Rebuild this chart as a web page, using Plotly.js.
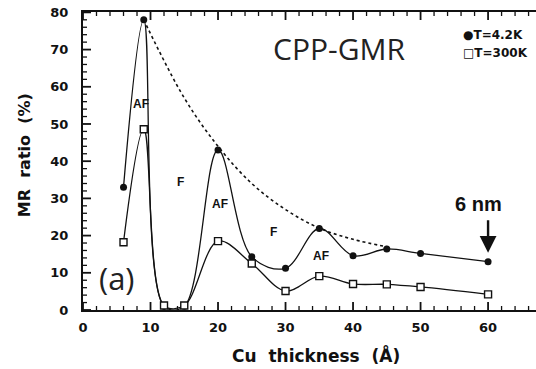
<!DOCTYPE html>
<html>
<head>
<meta charset="utf-8">
<script src="https://cdn.plot.ly/plotly-3.0.1.min.js"></script>
<style>
  html, body { margin: 0; padding: 0; background: #fff; }
  #chart { width: 536px; height: 369px; }
</style>
</head>
<body>
<div id="chart"></div>
<script>
// Cu spacer thickness (Å) and CPP-GMR ratio (%) at two temperatures
const thickness = [6, 9, 12, 15, 20, 25, 30, 35, 40, 45, 50, 60];
const mrLowT    = [33, 78, 1, 1, 43, 14.3, 11.2, 21.9, 14.6, 16.4, 15.2, 13];
const mrRoomT   = [18.2, 48.6, 1.2, 1.2, 18.5, 12.5, 5.1, 9.1, 7.0, 6.9, 6.2, 4.2];

// dotted envelope over the AF peaks
const envX = [9, 15, 20, 25, 30, 35, 40, 45];
const envY = [78, 57, 44, 34, 27, 22, 19, 17];

// coupling labels
const couplingText = ['AF', 'F', 'AF', 'F', 'AF'];
const couplingX    = [8.6, 14.4, 20.3, 28.2, 35.3];
const couplingY    = [55.5, 34.4, 28.5, 21, 14.6];

const xRange = [0, 67.1];
const yRange = [0, 80.1];

const W = 536, H = 369;
const M = { l: 83, r: 0, t: 12, b: 59 };
const plotW = W - M.l - M.r, plotH = H - M.t - M.b;

const ink = '#111';
const tickFont = { family: 'DejaVu Sans, sans-serif', size: 13, color: ink, weight: 700 };

// inward tick marks (8 px at every 10, 4 px at every 2), one short segment each
const xPerPx = (xRange[1] - xRange[0]) / plotW;
const yPerPx = (yRange[1] - yRange[0]) / plotH;
const tickTraces = [];
function addTick(xs, ys, major) {
  tickTraces.push({
    x: xs, y: ys, mode: 'lines', type: 'scatter', cliponaxis: false,
    line: { color: ink, width: major ? 1.8 : 1.3 },
    hoverinfo: 'skip', showlegend: false
  });
}
for (let v = 0; v <= 66; v += 2) {
  const major = v % 10 === 0;
  const dy = (major ? 8 : 4) * yPerPx;
  addTick([v, v], [yRange[0], yRange[0] + dy], major);
  addTick([v, v], [yRange[1], yRange[1] - dy], major);
}
for (let v = 0; v <= 80; v += 2) {
  const major = v % 10 === 0;
  const dx = (major ? 8 : 4) * xPerPx;
  addTick([xRange[0], xRange[0] + dx], [v, v], major);
}

const traces = tickTraces.concat([
  {
    x: envX, y: envY, mode: 'lines', type: 'scatter',
    line: { color: ink, width: 1.6, dash: 'dot', shape: 'spline', smoothing: 1 },
    hoverinfo: 'skip', showlegend: false
  },
  {
    x: thickness, y: mrLowT, mode: 'lines+markers', type: 'scatter', name: 'T=4.2K',
    line: { color: ink, width: 1.3, shape: 'spline', smoothing: 1 },
    marker: { symbol: 'circle', size: 7, color: ink },
    showlegend: false
  },
  {
    x: thickness, y: mrRoomT, mode: 'lines+markers', type: 'scatter', name: 'T=300K',
    line: { color: ink, width: 1.3, shape: 'spline', smoothing: 1 },
    marker: { symbol: 'square', size: 7, color: '#fff', line: { color: ink, width: 1.4 } },
    showlegend: false
  }
]);

const boldLabel = { family: 'Liberation Sans, Arial, sans-serif', size: 12, color: ink, weight: 700 };
const annotations = couplingText.map((t, i) => ({
  x: couplingX[i], y: couplingY[i], text: t, showarrow: false, font: boldLabel
}));

annotations.push(
  { x: 27.9, y: 70.3, xanchor: 'left', text: 'CPP-GMR', showarrow: false,
    font: { family: 'Open Sans, sans-serif', size: 30, color: '#222' } },
  { x: 2.0, y: 8.6, xanchor: 'left', text: '(a)', showarrow: false,
    font: { family: 'Open Sans, sans-serif', size: 31, color: '#222' } },
  { x: 56.0, y: 73.8, xanchor: 'left', text: '●T=4.2K', showarrow: false,
    font: { family: 'DejaVu Sans, sans-serif', size: 12, color: ink, weight: 700 } },
  { x: 56.0, y: 69.0, xanchor: 'left', text: '□T=300K', showarrow: false,
    font: { family: 'DejaVu Sans, sans-serif', size: 12, color: ink, weight: 700 } },
  { x: 58.6, y: 28.5, text: '6 nm', showarrow: false,
    font: { family: 'Liberation Sans, Arial, sans-serif', size: 20, color: ink, weight: 700 } },
  { x: 60, y: 15.4, ax: 0, ay: -34, text: '', showarrow: true,
    arrowhead: 2, arrowsize: 1.4, arrowwidth: 2.4, arrowcolor: ink },
  { xref: 'paper', yref: 'paper', x: -0.13, y: 0.52, xanchor: 'center', yanchor: 'middle',
    textangle: -90, text: 'MR  ratio  (%)', showarrow: false,
    font: { family: 'DejaVu Sans, sans-serif', size: 16, color: ink, weight: 700 } },
  { xref: 'paper', yref: 'paper', x: 0.515, y: -0.15, xanchor: 'center', yanchor: 'middle',
    text: 'Cu  thickness  (Å)', showarrow: false,
    font: { family: 'DejaVu Sans, sans-serif', size: 17, color: ink, weight: 700 } }
);

const layout = {
  width: W, height: H,
  margin: M,
  paper_bgcolor: '#fff', plot_bgcolor: '#fff',
  showlegend: false,
  xaxis: {
    range: xRange, dtick: 10, ticks: '', autorange: false,
    showline: true, linecolor: ink, linewidth: 2, mirror: true,
    showgrid: false, zeroline: false, tickfont: tickFont, ticklabelstandoff: 4
  },
  yaxis: {
    range: yRange, dtick: 10, ticks: '', autorange: false,
    showline: true, linecolor: ink, linewidth: 2,
    showgrid: false, zeroline: false, tickfont: tickFont, ticklabelstandoff: 10
  },
  annotations: annotations
};

Plotly.newPlot('chart', traces, layout, { displayModeBar: false });
</script>
</body>
</html>
